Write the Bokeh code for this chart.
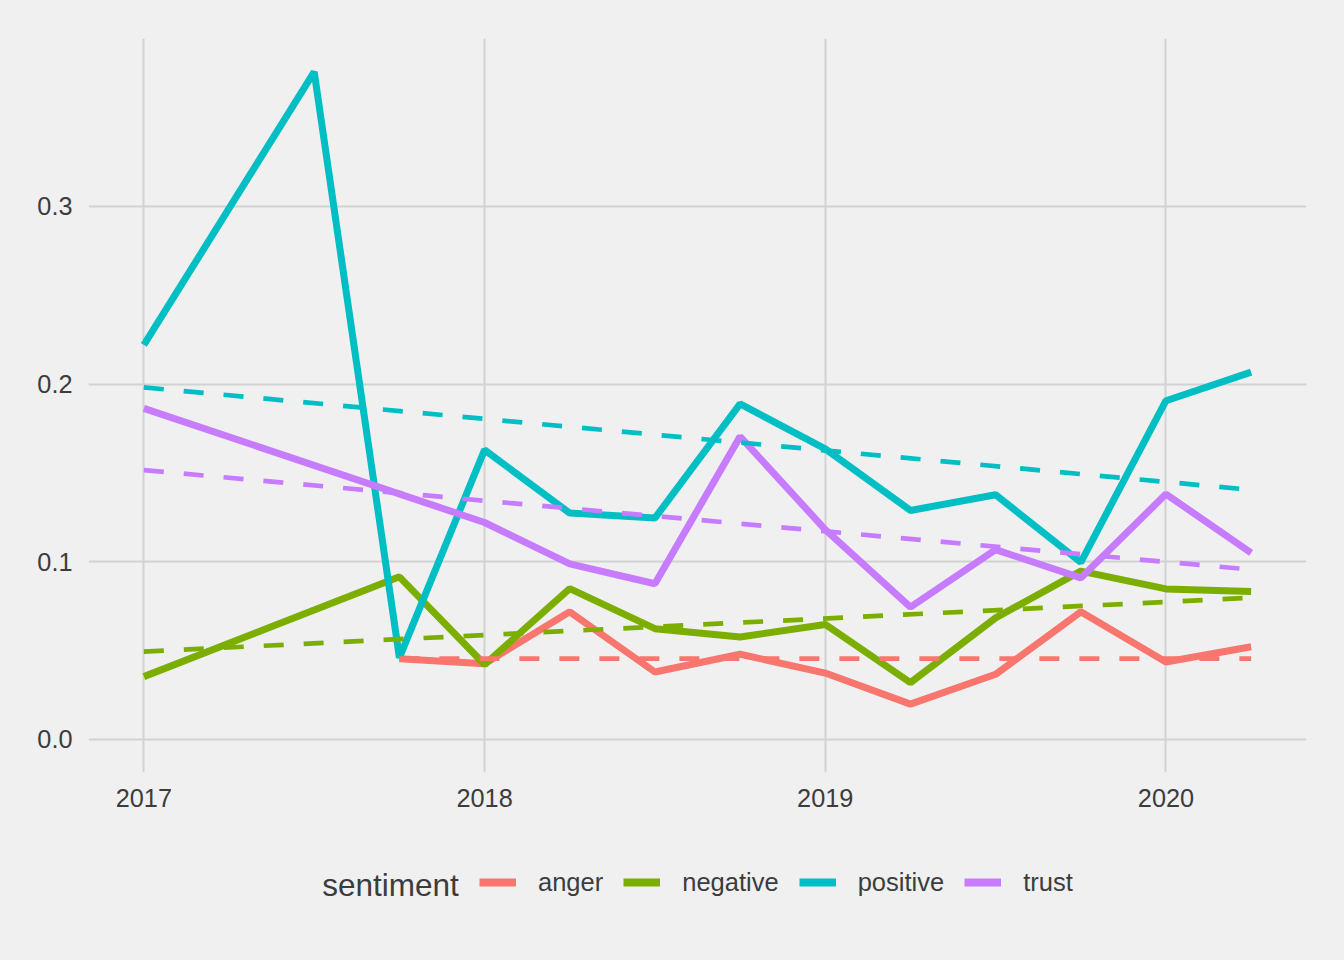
from bokeh.plotting import figure
from bokeh.layouts import column
from bokeh.models import Range1d, FixedTicker, PrintfTickFormatter, Legend, LegendItem, Label
from bokeh.embed import file_html
from bokeh.resources import INLINE

# ---------------- data ----------------
sentiments = ["anger", "negative", "positive", "trust"]
colors = ["#F8766D", "#7CAE00", "#00BFC4", "#C77CFF"]

anger_x = [2017.75, 2018.0, 2018.25, 2018.5, 2018.75, 2019.0, 2019.25, 2019.5, 2019.75, 2020.0, 2020.25]
anger_y = [0.0453, 0.0425, 0.0717, 0.0378, 0.0478, 0.0372, 0.0197, 0.0365, 0.0717, 0.0434, 0.0520]

negative_x = [2017.0, 2017.75, 2018.0, 2018.25, 2018.5, 2018.75, 2019.0, 2019.25, 2019.5, 2019.75, 2020.0, 2020.25]
negative_y = [0.0352, 0.0914, 0.0420, 0.0848, 0.0622, 0.0575, 0.0646, 0.0318, 0.0683, 0.0946, 0.0846, 0.0831]

positive_x = [2017.0, 2017.5, 2017.75, 2018.0, 2018.25, 2018.5, 2018.75, 2019.0, 2019.25, 2019.5, 2019.75, 2020.0, 2020.25]
positive_y = [0.2220, 0.3758, 0.0459, 0.1629, 0.1273, 0.1245, 0.1888, 0.1635, 0.1288, 0.1376, 0.0996, 0.1906, 0.2067]

trust_x = [2017.0, 2018.0, 2018.25, 2018.5, 2018.75, 2019.0, 2019.25, 2019.5, 2019.75, 2020.0, 2020.25]
trust_y = [0.1863, 0.1220, 0.0987, 0.0875, 0.1704, 0.1180, 0.0743, 0.1067, 0.0908, 0.1380, 0.1049]

# linear trend lines (start / end)
anger_trend_x = [2017.75, 2020.25]
anger_trend_y = [0.0453, 0.0453]
negative_trend_x = [2017.0, 2020.25]
negative_trend_y = [0.0493, 0.0796]
positive_trend_x = [2017.0, 2020.25]
positive_trend_y = [0.1981, 0.1404]
trust_trend_x = [2017.0, 2020.25]
trust_trend_y = [0.1515, 0.0955]

x_ticks = [2017, 2018, 2019, 2020]
y_ticks = [0.0, 0.1, 0.2, 0.3]
legend_title = "sentiment"

series = [(anger_x, anger_y), (negative_x, negative_y), (positive_x, positive_y), (trust_x, trust_y)]
trends = [(anger_trend_x, anger_trend_y), (negative_trend_x, negative_trend_y),
          (positive_trend_x, positive_trend_y), (trust_trend_x, trust_trend_y)]

# ---------------- main figure ----------------
BG = "#F0F0F0"
TXT = "#3C3C3C"
FONT = "Liberation Sans"

p = figure(width=1344, height=830, output_backend="svg", toolbar_location=None,
           x_range=Range1d(2016.8375, 2020.4125), y_range=Range1d(-0.0188, 0.3946),
           min_border_left=88, min_border_right=38, min_border_top=38, min_border_bottom=58)
p.background_fill_color = BG
p.border_fill_color = BG
p.outline_line_color = None

for ax in (p.xaxis[0], p.yaxis[0]):
    ax.axis_line_color = None
    ax.major_tick_line_color = None
    ax.minor_tick_line_color = None
    ax.major_tick_out = 0
    ax.major_tick_in = 0
    ax.minor_tick_out = 0
    ax.major_label_text_font = FONT
    ax.major_label_text_font_size = "25.3px"
    ax.major_label_text_color = TXT

p.xaxis[0].ticker = FixedTicker(ticks=x_ticks)
p.yaxis[0].ticker = FixedTicker(ticks=y_ticks)
p.yaxis[0].formatter = PrintfTickFormatter(format="%.1f")
p.xaxis[0].major_label_standoff = 16
p.yaxis[0].major_label_standoff = 16

p.xgrid[0].grid_line_color = "#D2D2D2"
p.ygrid[0].grid_line_color = "#D2D2D2"
p.xgrid[0].grid_line_width = 2
p.ygrid[0].grid_line_width = 2

for (xs, ys), c in zip(series, colors):
    p.line(xs, ys, line_color=c, line_width=7)

for (xs, ys), c in zip(trends, colors):
    p.line(xs, ys, line_color=c, line_width=4.7, line_dash="20 20")

# ---------------- legend strip ----------------
lg = figure(width=1344, height=130, output_backend="svg", toolbar_location=None,
            x_range=Range1d(0, 1), y_range=Range1d(0, 1),
            min_border_left=88, min_border_right=38,
            min_border_top=0, min_border_bottom=0)
lg.axis.visible = False
lg.grid.visible = False
lg.background_fill_alpha = 0
lg.border_fill_color = BG
lg.outline_line_color = None

items = []
for name, c in zip(sentiments, colors):
    r = lg.line(x=[float("nan")], y=[float("nan")], line_color=c, line_width=8)
    items.append(LegendItem(label=name, renderers=[r]))

legend = Legend(items=items, orientation="horizontal", location=(391, 63),
                glyph_width=37, glyph_height=30, label_height=30, label_standoff=22,
                spacing=20, padding=0, margin=0, border_line_color=None,
                background_fill_alpha=0, label_text_font=FONT,
                label_text_font_size="25.5px", label_text_color=TXT)
lg.add_layout(legend, "center")

title = Label(x=233.7, y=76, x_units="screen", y_units="screen", text=legend_title,
              text_font=FONT, text_font_size="31.5px", text_color=TXT,
              text_baseline="alphabetic", text_align="left")
lg.add_layout(title)

layout = column(p, lg, spacing=0, styles={"background-color": BG})
open("out.html", "w").write(file_html(layout, INLINE))
